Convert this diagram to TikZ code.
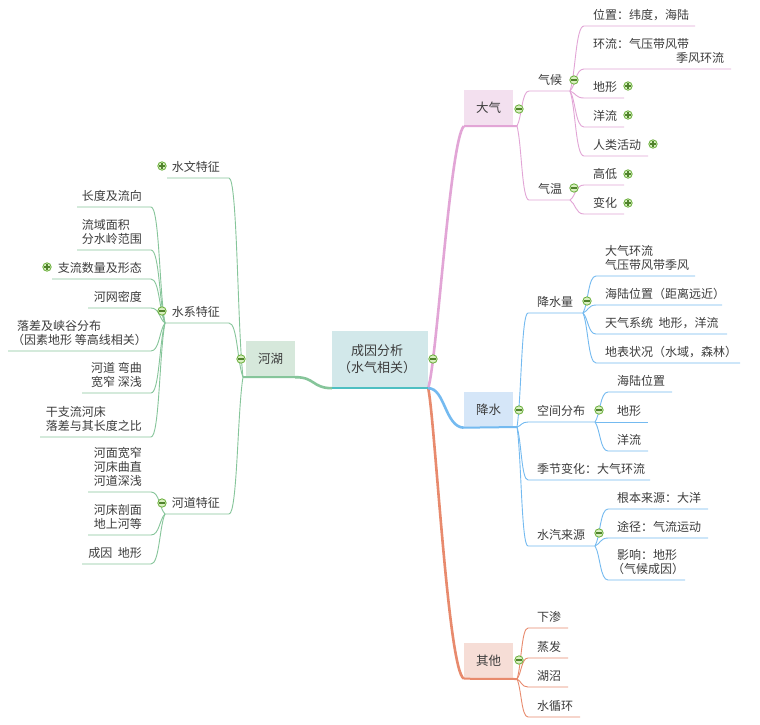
\documentclass[tikz,border=0pt]{standalone}
\usepackage{fontspec}
\newfontfamily\cjk{Noto Sans CJK SC}
\usetikzlibrary{calc}
\definecolor{pk}{HTML}{E2A5D6}
\definecolor{pkf}{HTML}{F3E0EF}
\definecolor{bl}{HTML}{74BAF0}
\definecolor{blf}{HTML}{D5E6F8}
\definecolor{og}{HTML}{E88A6D}
\definecolor{ogf}{HTML}{F6DDD6}
\definecolor{gn}{HTML}{86C59A}
\definecolor{gnf}{HTML}{D6E8DB}
\definecolor{tl}{HTML}{D2E8EA}
\definecolor{tld}{HTML}{4EBFC2}
\definecolor{tx}{HTML}{3C3C3C}
\definecolor{ic}{HTML}{6AAF3B}
\definecolor{icf}{HTML}{D8EFC0}
\tikzset{
  txt/.style={font=\cjk\fontsize{12}{14}\selectfont, text=tx, inner sep=0pt, align=left},
  mbox/.style={fill=#1, minimum width=49pt, minimum height=36pt, inner sep=0pt,
    font=\cjk\fontsize{12.5}{14}\selectfont, text=tx},
  pkl/.style={draw=pk, line width=0.9pt},
  bll/.style={draw=bl, line width=0.9pt},
  ogl/.style={draw=og, line width=0.9pt},
  gnl/.style={draw=gn, line width=0.9pt},
}
\newcommand\xconn[4]{\draw[#1] let \p1=(#2), \p2=(#3) in (\p1) .. controls ({0.6*\x1+0.4*\x2},{0.75*\y1+0.25*\y2}) and ({0.6*\x1+0.4*\x2},\y2) .. (\p2) -- (#4);}
\newcommand\rch[7]{%
  \coordinate (#1s) at ({#4-9},#5);
  \coordinate (#1e) at (#6,#5);
  \node[txt,anchor=south west] (#1) at (#4,{#5-5}) {#7};
  \xconn{#2}{#3}{#1s}{#1e}}
\newcommand\lch[7]{%
  \coordinate (#1s) at ({#4+9},#5);
  \coordinate (#1e) at (#6,#5);
  \node[txt,anchor=south east] (#1) at (#4,{#5-5}) {#7};
  \xconn{#2}{#3}{#1s}{#1e}}
\newcommand\icm[1]{\draw[ic, fill=icf, line width=0.8pt] (#1) circle (4.2pt);
  \draw[ic!75!black, line width=1.3pt] ($(#1)+(-2.6,0)$) -- ($(#1)+(2.6,0)$);}
\newcommand\icp[1]{\draw[ic, fill=icf, line width=0.8pt] (#1) circle (4.2pt);
  \draw[ic!75!black, line width=1.1pt] ($(#1)+(-2.6,0)$) -- ($(#1)+(2.6,0)$) ($(#1)+(0,-2.6)$) -- ($(#1)+(0,2.6)$);}
\begin{document}
\begin{tikzpicture}[x=1pt,y=-1pt]
\useasboundingbox (0,0) rectangle (760,724);
\fill[white] (0,0) rectangle (760,724);

% main nodes
\node[fill=tl, minimum width=96pt, minimum height=57pt, inner sep=0pt] (c) at (380,359.5) {};
\node[txt, align=center, font=\cjk\fontsize{13}{17}\selectfont] (ct) at (377,359) {成因分析\\（水气相关）};
\node[mbox=pkf] (dq) at (488.5,108) {大气};
\node[mbox=blf] (js) at (488.5,409.5) {降水};
\node[mbox=ogf] (qt) at (488.5,660.5) {其他};
\node[mbox=gnf] (hh) at (270.5,359) {河湖};

% main connectors
\draw[gn, line width=2.6pt] (c.south west) .. controls (312,388) and (315,377) .. (hh.south east);
\draw[pk, line width=2.6pt] (c.south east) .. controls (437,360) and (450,140) .. (dq.south west);
\draw[og, line width=2.6pt] (c.south east) .. controls (435,420) and (448,670) .. (qt.south west);
\draw[bl, line width=2.6pt] (c.south east) .. controls (445,388) and (445,427) .. (js.south west);
\draw[tld, line width=2pt] (c.south west) -- (c.south east);

\coordinate (dqJ) at (517,126);
\coordinate (jsJ) at (517,427);
\coordinate (qtJ) at (517,679);
\coordinate (hhJ) at (243,377);
\draw[pk, line width=2pt] (dq.south west) -- (dqJ);
\draw[bl, line width=2pt] (js.south west) -- (jsJ);
\draw[og, line width=2pt] (qt.south west) -- (qtJ);
\draw[gn, line width=2pt] (hh.south east) -- (hhJ);

% 大气
\rch{qh}{pkl}{dqJ}{538}{91}{570}{气候}
\rch{qw}{pkl}{dqJ}{538}{200}{570}{气温}
\rch{wz}{pkl}{qhe}{593}{26}{695}{位置：纬度，海陆}
\rch{hl}{pkl}{qhe}{593}{69}{731}{环流：气压带风带\\\hspace*{83pt}季风环流}
\rch{dx}{pkl}{qhe}{593}{98}{624}{地形}
\rch{yl}{pkl}{qhe}{593}{127}{624}{洋流}
\rch{rl}{pkl}{qhe}{593}{156}{648}{人类活动}
\rch{gd}{pkl}{qwe}{593}{185}{624}{高低}
\rch{bh}{pkl}{qwe}{593}{214}{624}{变化}

% 降水
\rch{jsl}{bll}{jsJ}{537}{313}{583}{降水量}
\rch{kj}{bll}{jsJ}{537}{422}{595}{空间分布}
\rch{jj}{bll}{jsJ}{537}{480}{650}{季节变化：大气环流}
\rch{sq}{bll}{jsJ}{537}{546}{595}{水汽来源}
\rch{la}{bll}{jsle}{605}{276}{695}{大气环流\\气压带风带季风}
\rch{lb}{bll}{jsle}{605}{305}{722}{海陆位置（距离远近）}
\rch{lc}{bll}{jsle}{605}{334}{727}{天气系统\ \ 地形，洋流}
\rch{ld}{bll}{jsle}{605}{363}{740}{地表状况（水域，森林）}
\rch{ka}{bll}{kje}{617}{392}{672}{海陆位置}
\rch{kb}{bll}{kje}{617}{422}{648}{地形}
\rch{kc}{bll}{kje}{617}{451}{648}{洋流}
\rch{sa}{bll}{sqe}{617}{509}{708}{根本来源：大洋}
\rch{sb}{bll}{sqe}{617}{538}{708}{途径：气流运动}
\rch{sc}{bll}{sqe}{617}{580}{685}{影响：地形\\\kern-5pt（气候成因）}

% 其他
\rch{oa}{ogl}{qtJ}{537}{628}{568}{下渗}
\rch{ob}{ogl}{qtJ}{537}{658}{568}{蒸发}
\rch{oc}{ogl}{qtJ}{537}{687}{568}{湖沼}
\rch{od}{ogl}{qtJ}{537}{717}{580}{水循环}

% 河湖
\lch{sw}{gnl}{hhJ}{220}{178}{167}{水文特征}
\lch{sx}{gnl}{hhJ}{220}{323}{165}{水系特征}
\lch{hd}{gnl}{hhJ}{220}{514}{165}{河道特征}
\lch{xa}{gnl}{sxe}{142}{207}{77}{长度及流向}
\lch{xb}{gnl}{sxe}{142}{250}{77}{流域面积\\分水岭范围}
\lch{xc}{gnl}{sxe}{142}{279}{52}{支流数量及形态}
\lch{xd}{gnl}{sxe}{142}{308}{88}{河网密度}
\lch{xe}{gnl}{sxe}{142}{351}{8}{落差及峡谷分布\\\kern-5pt（因素地形\ 等高线相关）\kern-5pt}
\lch{xf}{gnl}{sxe}{142}{393}{82}{河道\ 弯曲\\宽窄\ 深浅}
\lch{xg}{gnl}{sxe}{142}{437}{40}{干支流河床\\落差与其长度之比}
\lch{ya}{gnl}{hde}{142}{492}{88}{河面宽窄\\河床曲直\\河道深浅}
\lch{yb}{gnl}{hde}{142}{535}{88}{河床剖面\\地上河等}
\lch{yc}{gnl}{hde}{142}{564}{82}{成因\ \ 地形}

% icons
\icm{433,359} \icm{241,359}
\icm{519,109} \icm{519,410} \icm{519,660}
\icm{574,80} \icm{574,188}
\icp{628,86} \icp{628,115} \icp{653,144} \icp{628,174} \icp{628,203}
\icm{587,301} \icm{599,410} \icm{599,533}
\icp{162,166} \icm{162,311} \icm{162,503} \icp{47,267}
\end{tikzpicture}
\end{document}
